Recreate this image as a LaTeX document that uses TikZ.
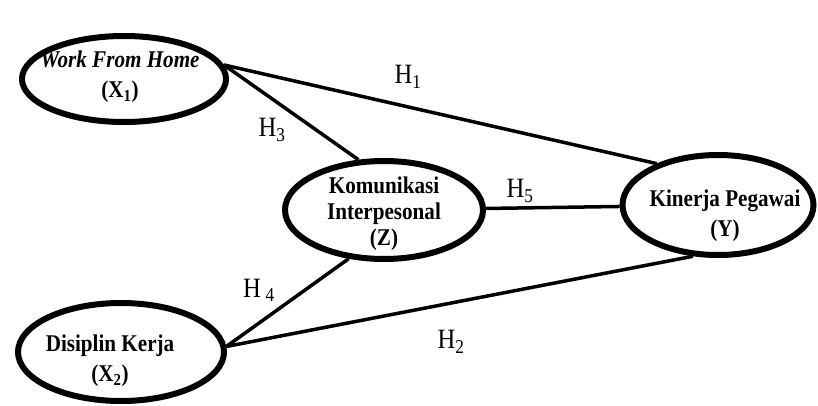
\documentclass[tikz,border=0pt]{standalone}
\usepackage{fontspec}
\setmainfont[FakeStretch=0.88]{Liberation Serif}
\usepackage{tikz}
\usetikzlibrary{positioning,shapes.geometric}

\begin{document}
\begin{tikzpicture}[x=1pt,y=-1pt,
    var/.style={ellipse, draw=black, line width=6pt, inner sep=0pt},
    vartext/.style={align=center, font=\bfseries\fontsize{24}{30}\selectfont},
    link/.style={draw=black, line width=3.5pt},
    hyp/.style={font=\fontsize{28}{30}\selectfont}]
  \useasboundingbox (0,0) rectangle (818,406);
  % latent variables
  \node[var, minimum width=204pt, minimum height=86pt] (x1) at (124,79) {};
  \node[var, minimum width=198pt, minimum height=98pt] (z) at (384,210) {};
  \node[var, minimum width=191pt, minimum height=100pt] (y) at (718,205) {};
  \node[var, minimum width=206pt, minimum height=98pt] (x2) at (121,352) {};
  \node[vartext] (x1t) at (120,77) {\textit{Work From Home}\\(X\textsubscript{1})};
  \node[vartext, font=\bfseries\fontsize{24}{26}\selectfont] (zt) at (384,214) {Komunikasi\\Interpesonal\\(Z)};
  \node[vartext] (yt) at (725,216) {Kinerja Pegawai\\(Y)};
  \node[vartext] (x2t) at (110,361) {Disiplin Kerja\\(X\textsubscript{2})};
  % paths
  \draw[link] (x1.8) -- (y.146);
  \draw[link] (x1.8) -- (z.117);
  \draw[link] (x2.3) -- (z.234);
  \draw[link] (x2.3) -- (y.244);
  \draw[link] (z) -- (y);
  % hypotheses
  \node[hyp] (h1) at (408,77) {H\textsubscript{1}};
  \node[hyp] (h3) at (272,130) {H\textsubscript{3}};
  \node[hyp] (h5) at (520,191) {H\textsubscript{5}};
  \node[hyp] (h4) at (259,290) {H\,\textsubscript{4}};
  \node[hyp] (h2) at (451,342) {H\textsubscript{2}};
\end{tikzpicture}
\end{document}
